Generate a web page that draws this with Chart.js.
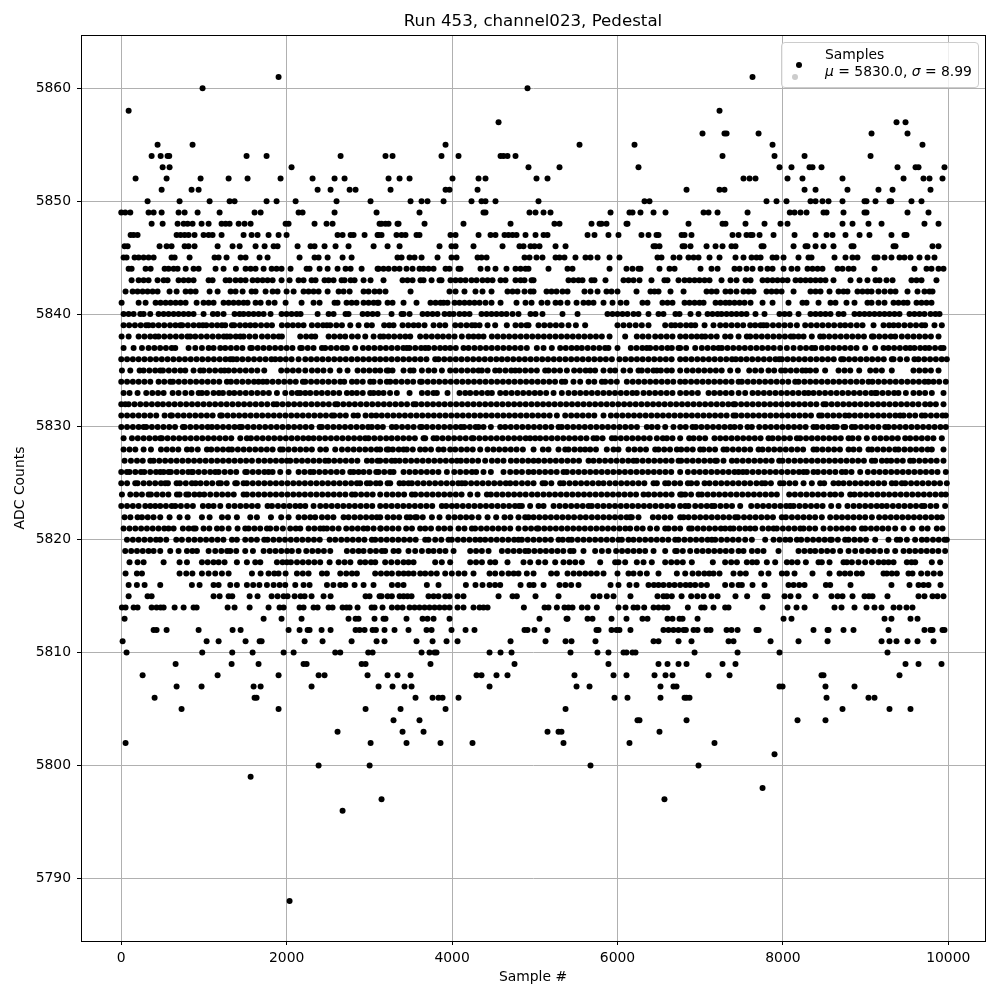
<!DOCTYPE html>
<html>
<head>
<meta charset="utf-8">
<title>Run 453, channel023, Pedestal</title>
<script src="https://cdn.jsdelivr.net/npm/chart.js@4"></script>
<style>
  html, body { margin: 0; padding: 0; background: #fff; }
  #wrap { position: relative; width: 1000px; height: 1000px; }
  #scatter { display: block; }
  #legendBox {
    position: absolute; left: 781px; top: 42px; width: 196px; height: 44px;
    border: 1px solid #ccc; border-radius: 4px; background: rgba(255,255,255,0.8);
    font: 13.9px "DejaVu Sans", sans-serif; color: #000; line-height: 17px;
  }
  #legendBox .txt { position: absolute; left: 43px; top: 3px; white-space: nowrap; }
  #legendBox i { font-family: "DejaVu Sans", sans-serif; }
  #legendBox .dot { position: absolute; width: 6px; height: 6px; border-radius: 50%; }
</style>
</head>
<body>
<div id="wrap">
  <canvas id="scatter" width="1000" height="1000"></canvas>
  <div id="legendBox">
    <span class="dot" style="left:14px;top:19px;background:#000"></span>
    <span class="dot" style="left:10px;top:31px;background:#ccc"></span>
    <div class="txt">Samples<br><i>μ</i> = 5830.0, <i>σ</i> = 8.99</div>
  </div>
</div>
<script>
const xTicks = [0, 2000, 4000, 6000, 8000, 10000];
const yTicks = [5790, 5800, 5810, 5820, 5830, 5840, 5850, 5860];

// sample numbers at each ADC level
const y5861 = [1902, 7633];
const y5860 = [983, 4912];
const y5858 = [89, 7234];
const y5857 = [4562, 9374, 9483];
const y5856 = [7028, 7294, 7319, 7706, 9072, 9507];
const y5855 = [439, 862, 3921, 5541, 6206, 7875, 9688];
const y5854 = [367, 476, 560, 580, 1515, 1757, 2652, 3195, 3280, 3872, 4078, 4586, 4622, 4670, 4767, 7270, 7899, 8262, 9060];
const y5853 = [500, 584, 2059, 4924, 5299, 6254, 7959, 8104, 8322, 8358, 8467, 9386, 9604, 9640, 9954];
const y5852 = [173, 548, 959, 1298, 1527, 1926, 2313, 2579, 2700, 3232, 3365, 3486, 4005, 4320, 4404, 5021, 5154, 7524, 7597, 7669, 8056, 8237, 8721, 9459, 9700, 9773, 9930];
const y5851 = [488, 850, 935, 2374, 2531, 2761, 2833, 3256, 3921, 3969, 4308, 6835, 7234, 7294, 8262, 8395, 8781, 9156, 9326, 9785];
const y5850 = [318, 705, 1068, 1310, 1370, 1757, 1878, 2108, 2603, 3014, 3498, 3631, 3703, 3897, 4235, 4356, 4404, 4525, 5045, 6327, 6387, 7802, 7923, 8044, 8334, 8395, 8479, 8552, 8721, 8987, 9011, 9120, 9289, 9310, 9555, 9676];
const y5849 = [0, 48, 109, 330, 391, 488, 693, 766, 923, 1189, 1612, 1685, 2144, 2192, 2579, 3087, 3606, 4380, 4404, 4936, 5009, 5106, 5190, 5916, 6145, 6182, 6278, 6436, 6581, 7041, 7101, 7210, 7573, 8084, 8141, 8213, 8286, 8491, 8528, 8733, 8987, 9011, 9507, 9761];
const y5848 = [367, 500, 681, 754, 802, 862, 971, 1056, 1213, 1262, 1310, 1419, 1491, 1564, 1987, 2023, 2337, 2482, 2555, 3123, 3147, 3195, 3232, 3340, 3353, 3667, 4138, 4707, 5238, 5299, 5686, 5783, 5807, 5867, 6109, 6121, 6859, 7270, 7306, 7548, 7778, 7971, 8056, 8721, 8842, 9035, 9193, 9712, 9882];
const y5847 = [113, 149, 197, 669, 717, 766, 814, 886, 995, 1056, 1104, 1213, 1479, 1576, 1648, 1781, 1902, 1999, 2615, 2676, 2773, 2809, 2942, 3099, 3111, 3147, 3328, 3389, 3437, 3570, 3606, 3981, 4042, 4320, 4465, 4525, 4634, 4682, 4731, 4779, 4888, 5009, 5106, 5154, 5638, 5722, 5891, 6012, 6290, 6375, 6472, 6496, 6775, 6811, 6895, 7391, 7464, 7560, 7609, 7633, 7718, 7887, 8141, 8395, 8528, 8600, 8757, 8927, 9047, 9313, 9470, 9495];
const y5846 = [40, 77, 463, 548, 608, 766, 814, 886, 1165, 1346, 1431, 1624, 1733, 1842, 1890, 2132, 2289, 2337, 2458, 2591, 2748, 3051, 3220, 3365, 3848, 3993, 4042, 4259, 4610, 4815, 4864, 4948, 4997, 5057, 5251, 5372, 6436, 6460, 6508, 6787, 6811, 6883, 7077, 7186, 7270, 7379, 7427, 7742, 7766, 8129, 8274, 8298, 8395, 8491, 8612, 8830, 8854, 9338, 9362, 9809, 9882];
const y5845 = [28, 64, 161, 210, 270, 330, 391, 608, 645, 826, 1128, 1177, 1273, 1443, 1503, 1672, 1769, 2156, 2337, 2386, 2495, 2676, 2785, 3340, 3389, 3486, 3546, 3631, 3824, 3993, 4054, 4308, 4356, 4417, 4876, 4936, 5021, 5093, 5251, 5299, 5359, 5492, 5613, 5674, 5759, 5904, 6024, 6484, 6532, 6677, 6750, 6859, 6920, 6980, 7113, 7234, 7427, 7524, 7621, 7681, 7730, 7875, 7923, 8008, 8189, 8310, 8346, 8624, 8757, 8842, 8902, 9108, 9144, 9229, 9313, 9410, 9470, 9543, 9652, 9749, 9833];
const y5844 = [89, 125, 294, 355, 524, 572, 633, 681, 779, 874, 935, 1140, 1237, 1386, 1503, 1564, 1624, 1721, 1818, 1878, 1938, 2047, 2241, 2277, 2398, 2495, 2615, 2712, 2773, 2906, 3099, 3111, 3171, 3232, 3304, 3365, 3449, 3522, 3606, 3655, 3715, 3776, 3921, 3969, 4078, 4102, 4344, 4429, 4525, 4658, 4767, 4828, 4888, 4924, 5166, 5396, 5456, 5904, 6109, 6182, 6254, 6278, 6508, 6629, 6690, 7004, 7137, 7210, 7415, 7476, 7560, 7633, 7730, 7814, 7875, 8008, 8104, 8177, 8298, 8358, 8419, 8479, 8661, 8721, 8794, 8854, 9108, 9591, 9737, 9797, 9882, 9942];
const y5843 = [125, 210, 270, 330, 439, 512, 560, 693, 754, 814, 874, 1056, 1104, 1262, 1310, 1382, 1443, 1503, 1588, 1648, 1709, 1769, 1830, 1938, 2035, 2144, 2204, 2301, 2349, 2458, 2507, 2567, 2664, 2700, 2773, 2821, 2930, 3014, 3171, 3401, 3461, 3522, 3618, 3655, 3752, 3848, 3872, 3981, 4042, 4102, 4163, 4235, 4296, 4368, 4429, 4489, 4586, 4646, 4767, 4828, 4876, 4961, 4985, 5408, 5468, 5529, 5577, 5686, 5722, 5855, 6073, 6133, 6194, 6266, 6411, 6568, 6605, 6738, 6811, 6871, 6932, 6992, 7053, 7113, 7258, 7367, 7439, 7548, 7609, 7754, 7814, 7875, 7935, 7996, 8056, 8153, 8213, 8274, 8334, 8395, 8455, 8515, 8612, 8818, 8927, 9023, 9120, 9168, 9253, 9326, 9555, 9616, 9676, 9857];
const y5842 = [52, 137, 197, 258, 318, 379, 439, 584, 669, 778, 838, 899, 1068, 1165, 1322, 1382, 1467, 1576, 1624, 1745, 1830, 1890, 1999, 2084, 2204, 2265, 2325, 2386, 2495, 2628, 2688, 2761, 2930, 2990, 3063, 3123, 3195, 3498, 3969, 4042, 4150, 4283, 4368, 4477, 4670, 4731, 4791, 4876, 4948, 4985, 5142, 5202, 5263, 5335, 5396, 5601, 5674, 5759, 5867, 5928, 6000, 6230, 6399, 6448, 6496, 6641, 6799, 7077, 7137, 7198, 7306, 7367, 7439, 7524, 7585, 7645, 7802, 7863, 7923, 7984, 8129, 8334, 8395, 8455, 8564, 8673, 8733, 8781, 8902, 8963, 9023, 9072, 9156, 9229, 9301, 9362, 9507, 9628, 9712, 9773, 9809];
const y5841 = [4, 210, 294, 415, 475, 536, 596, 657, 717, 778, 911, 995, 1056, 1116, 1237, 1298, 1358, 1419, 1479, 1527, 1624, 1685, 1781, 1854, 1987, 2180, 2325, 2398, 2579, 2615, 2724, 2785, 2845, 2930, 2990, 3051, 3099, 3111, 3220, 3280, 3413, 3570, 3739, 3800, 3860, 3897, 3945, 4030, 4090, 4150, 4211, 4271, 4332, 4404, 4477, 4586, 4779, 4888, 4961, 5081, 5154, 5251, 5311, 5396, 5505, 5589, 5650, 5710, 5831, 5940, 6037, 6109, 6302, 6363, 6544, 6605, 6665, 6811, 6871, 6932, 6992, 7041, 7186, 7246, 7306, 7355, 7415, 7476, 7536, 7609, 7754, 7875, 8068, 8237, 8286, 8431, 8576, 8636, 8769, 8866, 9023, 9072, 9156, 9229, 9338, 9398, 9459, 9507, 9616, 9676, 9737, 9797];
const y5840 = [28, 89, 149, 230, 270, 350, 451, 512, 572, 633, 693, 754, 814, 874, 995, 1108, 1165, 1237, 1370, 1431, 1479, 1540, 1600, 1661, 1721, 1805, 1938, 1999, 2059, 2120, 2168, 2374, 2507, 2567, 2712, 2748, 2918, 2978, 3039, 3099, 3268, 3389, 3413, 3486, 3643, 3703, 3764, 3824, 3909, 3969, 4018, 4090, 4150, 4211, 4356, 4417, 4477, 4537, 4598, 4658, 4731, 4803, 4948, 5009, 5093, 5335, 5517, 5879, 5940, 6000, 6061, 6121, 6194, 6254, 6375, 6496, 6556, 6701, 6750, 6883, 6980, 7089, 7149, 7210, 7258, 7319, 7379, 7439, 7500, 7560, 7669, 7778, 7959, 8020, 8080, 8189, 8334, 8395, 8455, 8515, 8576, 8673, 8733, 8866, 8927, 8987, 9047, 9108, 9169, 9229, 9289, 9350, 9410, 9531, 9591, 9652, 9712, 9785, 9845, 9894];
const y5839 = [28, 95, 165, 235, 300, 330, 383, 451, 520, 590, 655, 713, 737, 805, 875, 940, 987, 1028, 1095, 1160, 1217, 1257, 1338, 1366, 1435, 1500, 1560, 1620, 1690, 1760, 1822, 1942, 2010, 2075, 2140, 2204, 2305, 2375, 2440, 2486, 2527, 2600, 2668, 2769, 2869, 2970, 3030, 3179, 3240, 3292, 3401, 3470, 3535, 3594, 3667, 3776, 3850, 3917, 4038, 4105, 4175, 4240, 4279, 4332, 4429, 4521, 4662, 4767, 4835, 4900, 4924, 5045, 5115, 5185, 5255, 5325, 5408, 5497, 5609, 6000, 6073, 6145, 6220, 6294, 6375, 6577, 6650, 6698, 6760, 6830, 6890, 6940, 7053, 7161, 7242, 7310, 7380, 7450, 7520, 7605, 7665, 7730, 7766, 7806, 7880, 7950, 8020, 8090, 8169, 8270, 8340, 8410, 8480, 8550, 8620, 8693, 8753, 8820, 8894, 8963, 9096, 9217, 9285, 9338, 9398, 9470, 9540, 9610, 9680, 9720, 9833, 9922];
const y5838 = [4, 89, 210, 280, 350, 411, 451, 520, 590, 660, 730, 800, 834, 895, 965, 1035, 1105, 1175, 1240, 1277, 1318, 1385, 1439, 1479, 1550, 1620, 1701, 1770, 1840, 1905, 1942, 2164, 2235, 2300, 2345, 2507, 2575, 2645, 2708, 2789, 2860, 2950, 3051, 3131, 3171, 3232, 3300, 3370, 3435, 3494, 3614, 3685, 3755, 3825, 3890, 3960, 4030, 4118, 4199, 4259, 4320, 4380, 4481, 4550, 4620, 4690, 4760, 4830, 4900, 4970, 5040, 5110, 5180, 5250, 5320, 5390, 5460, 5530, 5600, 5670, 5740, 5811, 5904, 6093, 6234, 6305, 6375, 6456, 6525, 6595, 6665, 6758, 6825, 6895, 6960, 7020, 7061, 7130, 7200, 7302, 7367, 7464, 7564, 7605, 7675, 7745, 7815, 7885, 7955, 8025, 8095, 8129, 8189, 8250, 8350, 8451, 8491, 8560, 8630, 8700, 8770, 8840, 8910, 8980, 9076, 9096, 9165, 9235, 9305, 9358, 9438, 9510, 9580, 9650, 9720, 9790, 9882];
const y5837 = [28, 149, 250, 330, 400, 470, 540, 610, 653, 814, 895, 975, 1056, 1116, 1197, 1257, 1325, 1395, 1465, 1560, 1580, 1650, 1720, 1790, 1860, 1930, 2000, 2070, 2164, 2184, 2255, 2325, 2426, 2466, 2535, 2605, 2675, 2728, 2829, 2922, 2990, 3060, 3131, 3200, 3270, 3340, 3410, 3453, 3486, 3555, 3625, 3675, 3715, 3785, 3855, 3917, 3977, 4045, 4138, 4199, 4270, 4340, 4410, 4480, 4550, 4620, 4690, 4760, 4830, 4904, 5025, 5106, 5206, 5307, 5375, 5445, 5509, 5569, 5640, 5710, 5780, 5850, 5891, 6000, 6161, 6230, 6300, 6355, 6395, 6465, 6535, 6605, 6657, 6738, 6758, 6830, 6940, 7020, 7090, 7160, 7222, 7262, 7330, 7400, 7470, 7540, 7610, 7680, 7750, 7820, 7890, 7967, 8048, 8129, 8209, 8280, 8350, 8391, 8471, 8540, 8610, 8680, 8750, 8820, 8890, 8995, 9116, 9217, 9277, 9345, 9415, 9485, 9539, 9591, 9660, 9720, 9769, 9840, 9910, 9942];
const y5836 = [0, 70, 140, 210, 280, 350, 420, 490, 560, 630, 700, 770, 840, 910, 980, 1050, 1120, 1190, 1260, 1318, 1350, 1398, 1465, 1535, 1605, 1675, 1745, 1815, 1862, 1922, 1990, 2060, 2144, 2225, 2295, 2365, 2435, 2505, 2575, 2645, 2715, 2785, 2855, 2925, 2995, 3065, 3131, 3200, 3270, 3340, 3410, 3480, 3550, 3620, 3690, 3796, 3836, 3905, 3975, 4045, 4115, 4185, 4255, 4325, 4395, 4465, 4535, 4602, 4670, 4740, 4810, 4880, 4950, 5020, 5090, 5160, 5230, 5300, 5370, 5440, 5510, 5580, 5650, 5720, 5790, 5860, 5932, 6024, 6095, 6165, 6235, 6305, 6375, 6445, 6515, 6585, 6655, 6758, 6825, 6895, 6965, 7035, 7105, 7175, 7245, 7315, 7385, 7431, 7492, 7560, 7630, 7700, 7770, 7840, 7910, 7955, 7988, 8055, 8125, 8195, 8265, 8335, 8405, 8475, 8545, 8615, 8705, 8733, 8800, 8870, 8940, 9010, 9080, 9150, 9220, 9317, 9338, 9418, 9499, 9591, 9640, 9710, 9780, 9850, 9920, 9982];
const y5835 = [8, 109, 222, 270, 340, 410, 471, 504, 575, 645, 715, 774, 874, 955, 995, 1065, 1135, 1205, 1249, 1298, 1365, 1435, 1505, 1575, 1645, 1729, 1934, 2005, 2075, 2145, 2225, 2305, 2374, 2445, 2527, 2640, 2736, 2857, 2930, 3000, 3070, 3131, 3210, 3232, 3280, 3413, 3494, 3534, 3635, 3715, 3785, 3877, 3977, 4045, 4115, 4185, 4255, 4320, 4360, 4430, 4521, 4574, 4645, 4715, 4763, 4815, 4885, 4955, 5025, 5126, 5166, 5235, 5305, 5388, 5476, 5545, 5615, 5670, 5730, 5831, 5912, 5972, 6073, 6153, 6254, 6294, 6365, 6435, 6476, 6525, 6597, 6657, 6758, 6839, 6910, 6980, 7050, 7120, 7190, 7260, 7363, 7456, 7593, 7665, 7738, 7826, 7895, 7979, 8028, 8095, 8165, 8235, 8278, 8330, 8400, 8511, 8673, 8745, 8815, 8923, 9056, 9125, 9197, 9317, 9579, 9650, 9720, 9790, 9882];
const y5834 = [0, 70, 140, 210, 280, 351, 451, 520, 592, 625, 695, 765, 835, 905, 975, 1045, 1115, 1185, 1277, 1326, 1395, 1465, 1535, 1605, 1660, 1713, 1761, 1830, 1900, 1970, 2040, 2110, 2196, 2225, 2295, 2365, 2435, 2505, 2575, 2648, 2696, 2789, 2849, 2920, 3010, 3051, 3131, 3211, 3252, 3320, 3390, 3460, 3530, 3614, 3635, 3705, 3775, 3845, 3915, 3985, 4055, 4125, 4195, 4265, 4335, 4405, 4475, 4545, 4615, 4685, 4755, 4825, 4895, 4965, 5035, 5105, 5175, 5245, 5327, 5368, 5468, 5549, 5650, 5720, 5811, 5851, 5920, 5992, 6113, 6185, 6255, 6325, 6395, 6465, 6535, 6605, 6675, 6758, 6819, 6890, 6960, 7030, 7100, 7170, 7240, 7310, 7380, 7464, 7504, 7575, 7645, 7715, 7785, 7855, 7925, 7995, 8065, 8149, 8189, 8260, 8330, 8400, 8470, 8540, 8610, 8680, 8750, 8820, 8890, 8960, 9035, 9084, 9155, 9225, 9295, 9365, 9435, 9505, 9575, 9645, 9715, 9761, 9821, 9890, 9970];
const y5833 = [28, 100, 197, 302, 375, 445, 512, 621, 693, 774, 850, 935, 975, 1036, 1116, 1180, 1229, 1306, 1366, 1435, 1505, 1575, 1645, 1715, 1785, 1882, 1983, 2063, 2130, 2164, 2225, 2285, 2357, 2425, 2495, 2565, 2635, 2728, 2789, 2849, 2920, 3010, 3051, 3111, 3171, 3250, 3332, 3486, 3635, 3705, 3775, 3816, 3945, 4090, 4159, 4219, 4290, 4360, 4430, 4481, 4582, 4650, 4720, 4790, 4860, 4930, 5000, 5065, 5138, 5227, 5327, 5408, 5480, 5550, 5620, 5690, 5760, 5830, 5900, 5970, 6040, 6110, 6180, 6234, 6315, 6385, 6455, 6525, 6595, 6665, 6758, 6830, 6900, 6972, 7101, 7170, 7240, 7310, 7380, 7465, 7544, 7633, 7700, 7770, 7840, 7910, 7980, 8050, 8120, 8190, 8260, 8310, 8370, 8440, 8510, 8580, 8650, 8720, 8790, 8860, 8930, 9000, 9070, 9116, 9136, 9205, 9275, 9345, 9398, 9487, 9579, 9650, 9720, 9801, 9942];
const y5832 = [0, 48, 89, 160, 230, 300, 370, 440, 504, 575, 645, 715, 785, 855, 925, 995, 1065, 1135, 1205, 1275, 1345, 1415, 1485, 1555, 1625, 1695, 1765, 1842, 1882, 1950, 2020, 2090, 2160, 2230, 2300, 2370, 2440, 2510, 2587, 2615, 2685, 2755, 2825, 2895, 2965, 3035, 3105, 3175, 3245, 3315, 3385, 3455, 3534, 3562, 3630, 3700, 3770, 3840, 3910, 3980, 4050, 4120, 4190, 4260, 4330, 4400, 4470, 4540, 4610, 4680, 4750, 4820, 4890, 4960, 5030, 5100, 5170, 5240, 5310, 5380, 5450, 5520, 5590, 5660, 5730, 5800, 5870, 5940, 6010, 6080, 6150, 6220, 6290, 6360, 6430, 6500, 6570, 6640, 6710, 6780, 6850, 6920, 6990, 7060, 7130, 7200, 7270, 7340, 7403, 7423, 7495, 7565, 7635, 7705, 7775, 7845, 7915, 7985, 8055, 8125, 8195, 8265, 8335, 8405, 8491, 8520, 8590, 8660, 8730, 8800, 8870, 8940, 9010, 9080, 9150, 9220, 9290, 9360, 9430, 9500, 9570, 9640, 9720, 9781, 9850, 9942];
const y5831 = [0, 70, 140, 210, 280, 350, 423, 524, 596, 613, 685, 755, 825, 895, 965, 1035, 1105, 1197, 1217, 1285, 1355, 1425, 1495, 1565, 1635, 1705, 1775, 1845, 1915, 1985, 2055, 2125, 2195, 2265, 2335, 2405, 2475, 2547, 2575, 2645, 2715, 2809, 2861, 2954, 3025, 3083, 3150, 3220, 3290, 3360, 3430, 3500, 3570, 3640, 3710, 3780, 3850, 3920, 3990, 4060, 4130, 4200, 4270, 4340, 4410, 4480, 4550, 4620, 4690, 4760, 4830, 4900, 4970, 5040, 5110, 5180, 5267, 5368, 5440, 5510, 5580, 5650, 5720, 5831, 5920, 5990, 6060, 6130, 6200, 6270, 6340, 6410, 6480, 6550, 6620, 6690, 6760, 6830, 6900, 6970, 7040, 7110, 7180, 7250, 7320, 7403, 7431, 7500, 7570, 7640, 7710, 7780, 7850, 7920, 7990, 8060, 8130, 8200, 8270, 8340, 8439, 8471, 8540, 8610, 8680, 8753, 8801, 8870, 8940, 9010, 9080, 9150, 9220, 9290, 9360, 9418, 9459, 9530, 9600, 9680, 9720, 9790, 9860, 9930, 9970];
const y5830 = [0, 70, 140, 210, 270, 302, 370, 440, 510, 580, 650, 745, 766, 835, 905, 975, 1045, 1096, 1160, 1230, 1300, 1370, 1431, 1459, 1530, 1600, 1670, 1740, 1810, 1880, 1950, 2020, 2090, 2160, 2230, 2300, 2398, 2426, 2495, 2565, 2635, 2705, 2775, 2845, 2915, 2985, 3030, 3099, 3163, 3272, 3324, 3395, 3465, 3535, 3614, 3635, 3695, 3765, 3835, 3905, 3975, 4045, 4106, 4146, 4215, 4285, 4320, 4380, 4469, 4582, 4642, 4710, 4780, 4850, 4920, 4990, 5060, 5130, 5200, 5287, 5327, 5395, 5465, 5535, 5605, 5675, 5745, 5815, 5885, 5955, 6025, 6095, 6165, 6235, 6355, 6415, 6485, 6577, 6677, 6758, 6825, 6908, 6948, 7015, 7085, 7155, 7225, 7295, 7363, 7415, 7484, 7572, 7625, 7714, 7786, 7855, 7925, 7995, 8065, 8135, 8205, 8275, 8370, 8411, 8480, 8550, 8612, 8652, 8733, 8753, 8834, 8874, 8945, 9015, 9085, 9155, 9237, 9277, 9345, 9415, 9485, 9555, 9625, 9695, 9765, 9835, 9905, 9970];
const y5829 = [28, 129, 200, 270, 340, 410, 471, 492, 560, 630, 700, 770, 840, 910, 980, 1050, 1120, 1190, 1260, 1330, 1439, 1519, 1568, 1640, 1710, 1780, 1850, 1920, 1990, 2060, 2130, 2200, 2265, 2325, 2395, 2465, 2535, 2605, 2675, 2745, 2815, 2885, 2950, 2990, 3060, 3131, 3203, 3270, 3340, 3410, 3480, 3550, 3655, 3675, 3776, 3816, 3885, 3955, 4025, 4095, 4165, 4239, 4259, 4330, 4400, 4470, 4540, 4610, 4680, 4750, 4820, 4890, 4944, 5005, 5065, 5135, 5205, 5275, 5345, 5415, 5485, 5555, 5625, 5710, 5751, 5820, 5932, 5972, 6040, 6110, 6180, 6250, 6320, 6390, 6476, 6548, 6597, 6665, 6758, 6867, 6920, 6990, 7060, 7173, 7242, 7310, 7380, 7450, 7520, 7590, 7660, 7730, 7826, 7875, 7945, 8015, 8085, 8169, 8209, 8280, 8350, 8420, 8490, 8560, 8630, 8700, 8794, 8842, 8915, 9015, 9108, 9180, 9250, 9320, 9390, 9479, 9539, 9610, 9680, 9750, 9820, 9922];
const y5828 = [28, 100, 170, 270, 359, 480, 550, 620, 690, 794, 850, 925, 1036, 1088, 1160, 1230, 1298, 1338, 1410, 1480, 1550, 1620, 1690, 1760, 1830, 1922, 1954, 2023, 2095, 2165, 2235, 2305, 2406, 2475, 2587, 2668, 2740, 2810, 2880, 2950, 3020, 3090, 3131, 3210, 3232, 3284, 3355, 3413, 3453, 3525, 3614, 3675, 3745, 3836, 3897, 3977, 4038, 4110, 4180, 4250, 4340, 4429, 4500, 4570, 4640, 4710, 4780, 4856, 4985, 5098, 5166, 5287, 5368, 5408, 5480, 5550, 5609, 5670, 5740, 5871, 5952, 6012, 6133, 6205, 6275, 6345, 6456, 6496, 6565, 6635, 6718, 6770, 6840, 6910, 7000, 7040, 7110, 7180, 7282, 7323, 7395, 7465, 7535, 7605, 7706, 7754, 7825, 7895, 7965, 8035, 8105, 8175, 8245, 8370, 8411, 8480, 8550, 8620, 8690, 8794, 8854, 8925, 9035, 9076, 9145, 9215, 9285, 9358, 9398, 9470, 9540, 9610, 9680, 9750, 9801, 9942];
const y5827 = [40, 117, 190, 260, 351, 391, 460, 530, 600, 670, 740, 810, 880, 950, 1020, 1090, 1160, 1230, 1300, 1370, 1440, 1510, 1580, 1660, 1730, 1800, 1870, 1940, 2003, 2043, 2115, 2185, 2255, 2325, 2395, 2466, 2507, 2575, 2645, 2715, 2785, 2855, 2970, 3030, 3100, 3131, 3200, 3270, 3312, 3365, 3435, 3505, 3575, 3645, 3715, 3785, 3855, 3925, 3995, 4058, 4106, 4175, 4245, 4315, 4400, 4481, 4550, 4622, 4711, 4780, 4850, 4920, 4985, 5045, 5115, 5185, 5255, 5325, 5395, 5465, 5535, 5650, 5710, 5780, 5850, 5920, 5990, 6060, 6130, 6194, 6234, 6305, 6375, 6445, 6515, 6585, 6655, 6738, 6770, 6840, 6910, 6980, 7050, 7120, 7182, 7202, 7282, 7383, 7444, 7515, 7585, 7655, 7725, 7795, 7865, 7955, 7996, 8068, 8140, 8210, 8280, 8350, 8420, 8490, 8560, 8630, 8700, 8770, 8840, 8910, 8980, 9076, 9116, 9197, 9257, 9309, 9380, 9450, 9539, 9579, 9650, 9720, 9790, 9860, 9942];
const y5826 = [0, 68, 100, 170, 238, 278, 350, 420, 471, 512, 572, 600, 670, 740, 810, 854, 866, 935, 1005, 1075, 1136, 1177, 1250, 1320, 1390, 1499, 1519, 1590, 1660, 1730, 1781, 1830, 1922, 2023, 2144, 2215, 2285, 2325, 2395, 2465, 2535, 2605, 2675, 2769, 2809, 2869, 2930, 3000, 3083, 3111, 3180, 3250, 3292, 3413, 3485, 3555, 3625, 3695, 3765, 3835, 3937, 4026, 4098, 4170, 4240, 4291, 4380, 4469, 4622, 4703, 4775, 4845, 4924, 4985, 5055, 5125, 5195, 5265, 5347, 5388, 5460, 5530, 5600, 5670, 5740, 5810, 5880, 5950, 6020, 6090, 6160, 6230, 6300, 6370, 6440, 6510, 6580, 6650, 6758, 6851, 6925, 6995, 7065, 7135, 7205, 7275, 7345, 7415, 7464, 7516, 7564, 7635, 7705, 7775, 7845, 7915, 7985, 8055, 8125, 8195, 8250, 8290, 8370, 8423, 8495, 8565, 8635, 8713, 8761, 8830, 8935, 9027, 9100, 9170, 9240, 9310, 9380, 9450, 9520, 9590, 9660, 9730, 9800, 9870, 9970];
const y5825 = [0, 70, 169, 197, 270, 340, 410, 480, 532, 564, 669, 709, 780, 854, 899, 959, 1030, 1100, 1177, 1205, 1275, 1378, 1398, 1479, 1519, 1590, 1660, 1730, 1800, 1870, 1940, 2010, 2080, 2150, 2220, 2290, 2360, 2430, 2500, 2570, 2640, 2710, 2780, 2849, 2889, 2970, 3010, 3080, 3131, 3220, 3252, 3365, 3413, 3473, 3514, 3585, 3655, 3725, 3795, 3865, 3935, 4005, 4075, 4118, 4159, 4230, 4300, 4370, 4440, 4510, 4580, 4650, 4703, 4771, 4845, 4915, 4985, 5094, 5126, 5200, 5307, 5347, 5420, 5490, 5560, 5630, 5700, 5771, 5831, 5905, 5975, 6045, 6115, 6185, 6255, 6325, 6436, 6476, 6577, 6617, 6690, 6758, 6851, 6891, 6960, 7053, 7113, 7185, 7255, 7325, 7395, 7465, 7536, 7605, 7680, 7746, 7786, 7855, 7967, 8008, 8080, 8150, 8250, 8350, 8451, 8499, 8612, 8673, 8733, 8805, 8875, 8945, 9015, 9085, 9155, 9225, 9317, 9366, 9438, 9479, 9550, 9620, 9690, 9760, 9830, 9900, 9982];
const y5824 = [8, 109, 180, 250, 330, 359, 430, 500, 570, 673, 705, 786, 814, 885, 947, 1003, 1076, 1150, 1220, 1290, 1360, 1479, 1519, 1590, 1660, 1730, 1800, 1870, 1940, 2010, 2080, 2150, 2220, 2290, 2360, 2430, 2500, 2570, 2640, 2710, 2789, 2829, 2900, 2970, 3040, 3131, 3210, 3280, 3350, 3420, 3514, 3554, 3625, 3695, 3765, 3835, 3905, 3975, 4045, 4115, 4219, 4308, 4421, 4469, 4540, 4610, 4680, 4750, 4820, 4890, 4965, 5033, 5105, 5175, 5245, 5315, 5385, 5455, 5525, 5595, 5665, 5735, 5805, 5875, 5945, 6015, 6085, 6155, 6225, 6315, 6375, 6445, 6515, 6585, 6655, 6758, 6779, 6819, 6890, 6980, 7020, 7090, 7160, 7230, 7300, 7370, 7440, 7510, 7580, 7650, 7720, 7790, 7860, 7927, 8076, 8145, 8215, 8285, 8355, 8425, 8495, 8572, 8632, 8705, 8814, 8866, 8935, 9005, 9075, 9145, 9215, 9285, 9355, 9425, 9495, 9565, 9635, 9705, 9775, 9845, 9915, 9970];
const y5823 = [0, 70, 140, 210, 290, 351, 411, 471, 540, 610, 653, 721, 795, 866, 987, 1055, 1116, 1197, 1298, 1370, 1440, 1510, 1580, 1650, 1769, 1822, 1895, 1965, 2035, 2105, 2164, 2225, 2325, 2406, 2475, 2545, 2615, 2685, 2755, 2825, 2895, 2965, 3035, 3131, 3200, 3270, 3340, 3410, 3480, 3550, 3620, 3690, 3760, 3876, 3929, 3997, 4058, 4130, 4200, 4270, 4340, 4410, 4480, 4550, 4620, 4690, 4760, 4811, 4844, 4944, 5045, 5106, 5227, 5300, 5370, 5440, 5510, 5580, 5650, 5690, 5760, 5830, 5900, 5970, 6040, 6110, 6180, 6250, 6320, 6390, 6460, 6530, 6600, 6670, 6758, 6819, 6859, 6940, 7010, 7080, 7141, 7173, 7245, 7315, 7385, 7484, 7617, 7690, 7760, 7830, 7900, 7970, 8040, 8088, 8129, 8200, 8270, 8340, 8410, 8480, 8584, 8673, 8781, 8855, 8925, 8995, 9065, 9135, 9197, 9257, 9330, 9400, 9470, 9540, 9610, 9680, 9712, 9785, 9855, 9962];
const y5822 = [40, 110, 197, 250, 320, 390, 471, 584, 705, 802, 975, 1068, 1217, 1290, 1398, 1560, 1640, 1810, 1934, 2023, 2144, 2215, 2285, 2345, 2426, 2495, 2565, 2688, 2748, 2820, 2890, 2960, 3030, 3090, 3131, 3220, 3290, 3360, 3453, 3494, 3554, 3574, 3645, 3756, 3848, 3957, 4030, 4100, 4170, 4239, 4320, 4429, 4533, 4634, 4705, 4803, 4884, 4924, 4985, 5055, 5125, 5195, 5265, 5335, 5405, 5475, 5549, 5617, 5690, 5760, 5830, 5900, 5970, 6040, 6110, 6153, 6173, 6254, 6428, 6496, 6570, 6640, 6758, 6799, 6859, 6930, 7000, 7070, 7140, 7210, 7280, 7350, 7423, 7456, 7530, 7600, 7670, 7740, 7810, 7880, 7987, 8036, 8109, 8180, 8250, 8320, 8390, 8471, 8572, 8645, 8715, 8785, 8855, 8925, 8995, 9076, 9164, 9235, 9305, 9375, 9445, 9515, 9585, 9655, 9725, 9795, 9865, 9922];
const y5821 = [28, 100, 170, 240, 310, 380, 450, 520, 572, 633, 745, 815, 874, 899, 995, 1065, 1157, 1217, 1298, 1406, 1499, 1540, 1610, 1680, 1761, 1801, 1875, 1954, 2043, 2110, 2164, 2265, 2335, 2405, 2446, 2487, 2555, 2628, 2720, 2790, 2860, 2930, 2978, 3051, 3131, 3139, 3210, 3280, 3352, 3445, 3515, 3614, 3675, 3745, 3836, 3905, 3977, 4078, 4150, 4239, 4279, 4350, 4420, 4490, 4560, 4630, 4703, 4803, 4884, 4955, 5025, 5045, 5115, 5185, 5255, 5325, 5395, 5465, 5535, 5605, 5675, 5745, 5815, 5885, 5955, 6025, 6095, 6153, 6234, 6305, 6395, 6476, 6577, 6617, 6690, 6758, 6867, 6899, 6970, 7040, 7110, 7180, 7250, 7302, 7363, 7403, 7475, 7545, 7605, 7665, 7754, 7825, 7887, 7927, 8000, 8070, 8140, 8210, 8250, 8320, 8390, 8491, 8572, 8645, 8715, 8785, 8855, 8955, 8995, 9065, 9135, 9205, 9275, 9358, 9459, 9567, 9680, 9750, 9861, 9930];
const y5820 = [69, 140, 210, 280, 350, 420, 471, 544, 665, 733, 814, 885, 955, 1025, 1095, 1165, 1235, 1338, 1398, 1499, 1570, 1640, 1729, 1769, 1840, 1910, 1980, 2050, 2120, 2190, 2260, 2330, 2400, 2519, 2587, 2660, 2730, 2800, 2870, 2940, 3030, 3071, 3140, 3210, 3280, 3350, 3420, 3490, 3560, 3675, 3715, 3796, 3870, 3957, 3997, 4070, 4140, 4210, 4280, 4340, 4400, 4470, 4540, 4610, 4680, 4750, 4803, 4844, 4915, 4985, 5055, 5125, 5195, 5287, 5339, 5408, 5448, 5520, 5590, 5660, 5730, 5800, 5870, 5940, 6012, 6053, 6133, 6194, 6265, 6335, 6405, 6475, 6545, 6615, 6698, 6738, 6810, 6880, 6950, 7020, 7090, 7141, 7182, 7255, 7325, 7395, 7465, 7544, 7625, 7786, 7887, 7960, 8030, 8088, 8169, 8221, 8295, 8365, 8435, 8505, 8572, 8592, 8665, 8753, 8794, 8865, 8935, 9005, 9116, 9277, 9378, 9418, 9499, 9599, 9680, 9741, 9815, 9885, 9955, 9982];
const y5819 = [48, 120, 190, 260, 330, 391, 471, 592, 693, 794, 860, 915, 1056, 1136, 1210, 1280, 1318, 1390, 1499, 1592, 1721, 1795, 1865, 1935, 2005, 2063, 2144, 2237, 2310, 2380, 2450, 2527, 2728, 2800, 2870, 2930, 3010, 3080, 3151, 3191, 3292, 3353, 3473, 3554, 3635, 3715, 3776, 3850, 3920, 4018, 4219, 4290, 4360, 4441, 4602, 4675, 4745, 4815, 4884, 4924, 4995, 5065, 5135, 5205, 5275, 5345, 5428, 5468, 5589, 5730, 5811, 5891, 5984, 6055, 6125, 6195, 6265, 6335, 6436, 6577, 6698, 6718, 6790, 6879, 6960, 7030, 7100, 7170, 7240, 7310, 7380, 7464, 7524, 7625, 7695, 7766, 7947, 8189, 8260, 8330, 8391, 8465, 8535, 8605, 8693, 8794, 8874, 8955, 9030, 9100, 9176, 9257, 9358, 9459, 9530, 9600, 9670, 9740, 9810, 9880, 9962];
const y5818 = [100, 197, 270, 512, 705, 794, 975, 1045, 1115, 1177, 1249, 1398, 1519, 1620, 1681, 1882, 1950, 2003, 2051, 2125, 2195, 2265, 2335, 2405, 2519, 2628, 2700, 2770, 2889, 2950, 3020, 3071, 3191, 3265, 3340, 3413, 3473, 3534, 3796, 3876, 3977, 4219, 4290, 4361, 4461, 4521, 4670, 4864, 4944, 5045, 5126, 5247, 5347, 5420, 5490, 5569, 5791, 5972, 6012, 6093, 6234, 6315, 6415, 6577, 6650, 6720, 6790, 6899, 7153, 7302, 7375, 7444, 7564, 7630, 7685, 7806, 7907, 8048, 8109, 8177, 8278, 8431, 8471, 8564, 8733, 8774, 8834, 8914, 8995, 9076, 9156, 9220, 9277, 9338, 9499, 9555, 9600, 9801, 9902];
const y5817 = [52, 189, 250, 705, 786, 860, 975, 1056, 1136, 1217, 1298, 1580, 1685, 1781, 1850, 1902, 1987, 2124, 2195, 2265, 2426, 2486, 2648, 2720, 2789, 2849, 3070, 3140, 3210, 3272, 3353, 3415, 3473, 3534, 3615, 3675, 3745, 3815, 3917, 3997, 4078, 4150, 4259, 4453, 4521, 4602, 4682, 4745, 4803, 4904, 4985, 5198, 5267, 5396, 5470, 5540, 5610, 5680, 5750, 5831, 6000, 6133, 6194, 6274, 6355, 6496, 6718, 6819, 6908, 6980, 7050, 7110, 7161, 7234, 7403, 7484, 7552, 7738, 7826, 7988, 8048, 8141, 8358, 8564, 8685, 8750, 8814, 8894, 8955, 9217, 9257, 9317, 9378, 9519, 9567, 9672, 9749, 9825, 9902];
const y5816 = [89, 189, 282, 471, 854, 947, 1116, 1177, 1318, 1398, 1519, 1595, 1670, 1761, 1842, 1915, 1983, 2104, 2204, 2277, 2487, 2565, 2648, 2708, 2821, 2930, 3050, 3272, 3345, 3413, 3695, 3836, 4167, 4283, 4368, 4453, 4520, 4582, 4828, 4936, 4985, 5106, 5299, 5370, 5440, 5529, 5916, 6012, 6145, 6230, 6375, 6440, 6496, 6556, 6625, 6690, 6758, 6825, 6880, 6940, 7012, 7081, 7302, 7383, 7464, 7504, 7633, 7778, 8068, 8129, 8197, 8262, 8520, 8572, 8818, 9313, 9531, 9640, 9700, 9761, 9906];
const y5815 = [89, 318, 367, 1116, 1189, 1298, 1342, 1552, 1648, 1818, 1890, 1963, 2011, 2096, 2168, 2217, 2301, 2446, 2531, 2954, 3002, 3123, 3147, 3220, 3272, 3365, 3413, 3461, 3510, 3715, 3776, 3836, 3917, 3969, 4066, 4138, 4562, 4731, 4783, 5009, 5287, 5710, 5783, 5871, 5952, 6157, 6484, 6556, 6597, 6657, 6775, 6891, 6965, 7040, 7137, 7210, 7427, 7568, 7778, 7814, 8020, 8092, 8189, 8395, 8588, 8661, 8721, 8842, 8987, 9040, 9084, 9265, 9640, 9712, 9809, 9870, 9942];
const y5814 = [8, 52, 149, 197, 367, 427, 476, 512, 645, 754, 874, 911, 1286, 1370, 1552, 1781, 1914, 1963, 2156, 2204, 2325, 2374, 2507, 2555, 2676, 2724, 2761, 2857, 3027, 3063, 3159, 3272, 3340, 3401, 3486, 3546, 3606, 3667, 3727, 3788, 3848, 3909, 3969, 4066, 4138, 4259, 4332, 4380, 4429, 4868, 5118, 5166, 5267, 5359, 5408, 5456, 5569, 5638, 5750, 6012, 6097, 6194, 6242, 6323, 6436, 6496, 6556, 6605, 6851, 7012, 7053, 7161, 7302, 7343, 7754, 8056, 8165, 8262, 8624, 8709, 8866, 9011, 9108, 9193, 9338, 9410, 9495, 9567];
const y5813 = [40, 1721, 1938, 2180, 2748, 2833, 2869, 3062, 3171, 3195, 3449, 3643, 3703, 3776, 3969, 5057, 5384, 5396, 5638, 5698, 5928, 6109, 6302, 6363, 6605, 6665, 6750, 6787, 6968, 8008, 8104, 9229, 9313, 9543, 9628];
const y5812 = [391, 427, 548, 935, 1346, 1443, 2023, 2156, 2253, 2277, 2422, 2531, 2833, 2881, 2942, 3039, 3079, 3183, 3304, 3473, 3691, 3752, 3993, 4163, 4271, 4876, 4912, 4997, 5154, 5746, 5771, 5928, 5988, 6024, 6157, 6556, 6617, 6677, 6738, 6799, 6827, 6920, 6968, 7077, 7125, 7319, 7379, 7452, 7681, 7706, 8370, 8540, 8552, 8733, 8854, 9277, 9712, 9785, 9809, 9930, 9954];
const y5811 = [16, 1032, 1177, 1503, 1673, 1697, 2217, 2434, 2785, 3087, 3183, 3570, 3764, 3933, 4066, 4707, 5130, 5372, 5444, 5734, 6436, 6496, 6738, 6895, 7343, 7403, 7851, 8189, 8540, 9193, 9289, 9374, 9507, 9628, 9821];
const y5810 = [64, 979, 1342, 1588, 1963, 2084, 2587, 2648, 2986, 3039, 3631, 3727, 3788, 3812, 4453, 4586, 4719, 5432, 5758, 5891, 6073, 6109, 6182, 6218, 6932, 7452, 7959, 9265];
const y5809 = [657, 1334, 1660, 2204, 2241, 2906, 2954, 3739, 4755, 5891, 6496, 6605, 6738, 6835, 7270, 7427, 9483, 9640, 9918];
const y5808 = [258, 1165, 1902, 2386, 2458, 2978, 3220, 3340, 3498, 4296, 4356, 4537, 4670, 5480, 5952, 6109, 6448, 6581, 6665, 7101, 7355, 8467, 8491, 9410];
const y5807 = [669, 971, 1600, 1685, 2301, 3111, 3280, 3425, 3510, 4453, 5505, 5662, 6520, 6677, 6714, 7959, 7996, 8515, 8866];
const y5806 = [403, 1612, 1636, 3558, 3764, 3836, 3885, 4078, 5964, 6121, 6520, 6811, 6835, 6871, 8528, 9035, 9108];
const y5805 = [729, 1902, 2954, 3377, 3921, 5372, 8721, 9289, 9543];
const y5804 = [3292, 3606, 6242, 6266, 6835, 8177, 8515];
const y5803 = [2615, 3401, 3655, 5154, 5287, 5323, 6508];
const y5802 = [52, 3015, 3449, 3860, 4247, 5347, 6145, 7173];
const y5801 = [7899];
const y5800 = [2386, 3003, 5674, 6980];
const y5799 = [1564];
const y5798 = [7754];
const y5797 = [3147, 6568];
const y5796 = [2676];
const y5788 = [2035];

const levels = [5861, 5860, 5858, 5857, 5856, 5855, 5854, 5853, 5852, 5851, 5850, 5849, 5848, 5847, 5846, 5845, 5844, 5843, 5842, 5841, 5840, 5839, 5838, 5837, 5836, 5835, 5834, 5833, 5832, 5831, 5830, 5829, 5828, 5827, 5826, 5825, 5824, 5823, 5822, 5821, 5820, 5819, 5818, 5817, 5816, 5815, 5814, 5813, 5812, 5811, 5810, 5809, 5808, 5807, 5806, 5805, 5804, 5803, 5802, 5801, 5800, 5799, 5798, 5797, 5796, 5788];
const samples = [y5861, y5860, y5858, y5857, y5856, y5855, y5854, y5853, y5852, y5851, y5850, y5849, y5848, y5847, y5846, y5845, y5844, y5843, y5842, y5841, y5840, y5839, y5838, y5837, y5836, y5835, y5834, y5833, y5832, y5831, y5830, y5829, y5828, y5827, y5826, y5825, y5824, y5823, y5822, y5821, y5820, y5819, y5818, y5817, y5816, y5815, y5814, y5813, y5812, y5811, y5810, y5809, y5808, y5807, y5806, y5805, y5804, y5803, y5802, y5801, y5800, y5799, y5798, y5797, y5796, y5788];

const points = samples.flatMap((xs, i) => xs.map((x) => ({ x: x, y: levels[i] })));

const frame = {
  id: "frame",
  afterDraw(chart) {
    const a = chart.chartArea;
    const ctx = chart.ctx;
    ctx.save();
    ctx.strokeStyle = "#000";
    ctx.lineWidth = 1;
    ctx.strokeRect(a.left + 0.5, a.top + 0.5, a.right - a.left, a.bottom - a.top);
    ctx.restore();
  },
};

Chart.defaults.font.family = '"DejaVu Sans", sans-serif';
Chart.defaults.font.size = 13.9;
Chart.defaults.color = "#000";

new Chart(document.getElementById("scatter"), {
  type: "scatter",
  data: {
    datasets: [
      {
        label: "Samples",
        data: points,
        backgroundColor: "#000",
        borderColor: "#000",
        pointRadius: 3,
        pointBorderWidth: 0,
      },
    ],
  },
  options: {
    responsive: false,
    animation: false,
    events: [],
    layout: { padding: { left: 0, right: 15, top: 0, bottom: 0 } },
    plugins: {
      legend: { display: false },
      tooltip: { enabled: false },
      title: {
        display: true,
        text: "Run 453, channel023, Pedestal",
        fullSize: false,
        font: { size: 16.67, weight: "normal" },
        padding: { top: 12, bottom: 3 },
      },
    },
    scales: {
      x: {
        type: "linear",
        min: -487,
        max: 10444,
        afterFit: (s) => { s.height = 59; },
        afterBuildTicks: (s) => { s.ticks = xTicks.map((v) => ({ value: v })); },
        title: { display: true, text: "Sample #", padding: { top: 0, bottom: 14 } },
        grid: { color: "#b0b0b0", lineWidth: 1, tickLength: 4, tickColor: "#000" },
        border: { color: "#000" },
        ticks: { maxRotation: 0, padding: 5, callback: (v) => String(v) },
      },
      y: {
        type: "linear",
        min: 5784.45,
        max: 5864.72,
        afterFit: (s) => { s.width = 81; },
        afterBuildTicks: (s) => { s.ticks = yTicks.map((v) => ({ value: v })); },
        title: { display: true, text: "ADC Counts", padding: { top: 12, bottom: 0 } },
        grid: { color: "#b0b0b0", lineWidth: 1, tickLength: 4, tickColor: "#000" },
        border: { color: "#000" },
        ticks: { padding: 6, callback: (v) => String(v) },
      },
    },
  },
  plugins: [frame],
});
</script>
</body>
</html>
